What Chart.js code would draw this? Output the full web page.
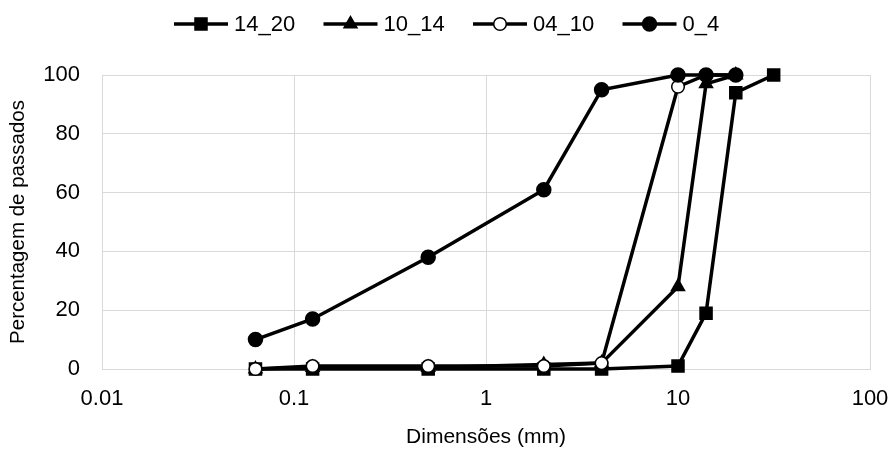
<!DOCTYPE html>
<html>
<head>
<meta charset="utf-8">
<script src="https://cdn.jsdelivr.net/npm/chart.js@4.4.1/dist/chart.umd.min.js"></script>
<style>
  html, body { margin: 0; padding: 0; background: #fff; }
  #wrap { width: 893px; height: 450px; position: relative; }
</style>
</head>
<body>
<div id="wrap"><canvas id="c"></canvas></div>
<script>
// sieve sizes (mm)
const sieves = [0.063, 0.125, 0.5, 2, 4, 10, 14, 20, 31.5];
const xTicks = [0.01, 0.1, 1, 10, 100];

const s14_20 = [0, 0, 0, 0, 0, 1, 19, 94, 100];
const s10_14 = [0, 0.5, 0.5, 1.5, 2, 28, 97, 100];
const s04_10 = [0, 1, 1, 1, 2, 96, 100, 100];
const s0_4 = [10, 17, 38, 61, 95, 100, 100, 100];

const names = ['14_20', '10_14', '04_10', '0_4'];
const FONT = '"Liberation Sans", Arial, sans-serif';

function pts(vals) { return vals.map((v, i) => ({ x: sieves[i], y: v })); }

function mk(label, vals, style, fill, r, order) {
    return {
        label: label, data: pts(vals), order: order,
        borderColor: '#000', borderWidth: 3.5,
        pointStyle: style, pointRadius: r, pointHoverRadius: r,
        pointBackgroundColor: fill, pointBorderColor: '#000', pointBorderWidth: 1.5,
        tension: 0, fill: false, clip: false
    };
}

// later series sit on top, as in the original
const datasets = [
    mk(names[0], s14_20, 'rect', '#000', 8.5, 3),
    mk(names[1], s10_14, 'triangle', '#000', 7.5, 2),
    mk(names[2], s04_10, 'circle', '#fff', 6.3, 1),
    mk(names[3], s0_4, 'circle', '#000', 7, 0)
];

// legend: short line with the marker in its middle, then the name
const lineLegend = {
    id: 'lineLegend',
    afterDraw(chart) {
        const ctx = chart.ctx;
        const y = 24;
        let x = 174;
        ctx.save();
        ctx.font = '22px ' + FONT;
        ctx.textBaseline = 'middle';
        chart.data.datasets.forEach(ds => {
            ctx.strokeStyle = '#000'; ctx.lineWidth = 3.5;
            ctx.beginPath(); ctx.moveTo(x, y); ctx.lineTo(x + 54, y); ctx.stroke();
            ctx.fillStyle = ds.pointBackgroundColor;
            ctx.lineWidth = 1.5;
            Chart.helpers.drawPoint(ctx, {
                pointStyle: ds.pointStyle, radius: ds.pointRadius, borderWidth: 1.5
            }, x + 27, y);
            ctx.fillStyle = '#000';
            ctx.fillText(ds.label, x + 60, y + 1);
            x += 149.5;
        });
        ctx.restore();
    }
};

new Chart(document.getElementById('c'), {
    type: 'line',
    data: { datasets: datasets },
    plugins: [lineLegend],
    options: {
        responsive: true, maintainAspectRatio: false, animation: false,
        layout: { padding: { top: 75, right: 23, left: 0, bottom: 0 } },
        plugins: { legend: { display: false }, tooltip: { enabled: false } },
        scales: {
            x: {
                type: 'logarithmic', min: 0.01, max: 100,
                afterBuildTicks: s => { s.ticks = xTicks.map(v => ({ value: v })); },
                afterFit: s => { s.height = 81; s.paddingLeft = 0; s.paddingRight = 0; },
                ticks: { color: '#000', font: { family: FONT, size: 22 }, padding: 17,
                         autoSkip: false, maxRotation: 0, callback: v => String(v) },
                grid: { color: '#d9d9d9', lineWidth: 1, drawTicks: false },
                border: { color: '#d9d9d9' },
                title: { display: true, text: 'Dimensões (mm)', color: '#000',
                         font: { family: FONT, size: 21 }, padding: { top: 0, bottom: 0 } }
            },
            y: {
                min: 0, max: 100,
                afterFit: s => { s.width = 102; },
                ticks: { stepSize: 20, color: '#000', font: { family: FONT, size: 22 }, padding: 22 },
                grid: { color: '#d9d9d9', lineWidth: 1, drawTicks: false },
                border: { color: '#d9d9d9' },
                title: { display: true, text: 'Percentagem de passados', color: '#000',
                         font: { family: FONT, size: 20.5 }, padding: { top: 6, bottom: 0 } }
            }
        }
    }
});
</script>
</body>
</html>
